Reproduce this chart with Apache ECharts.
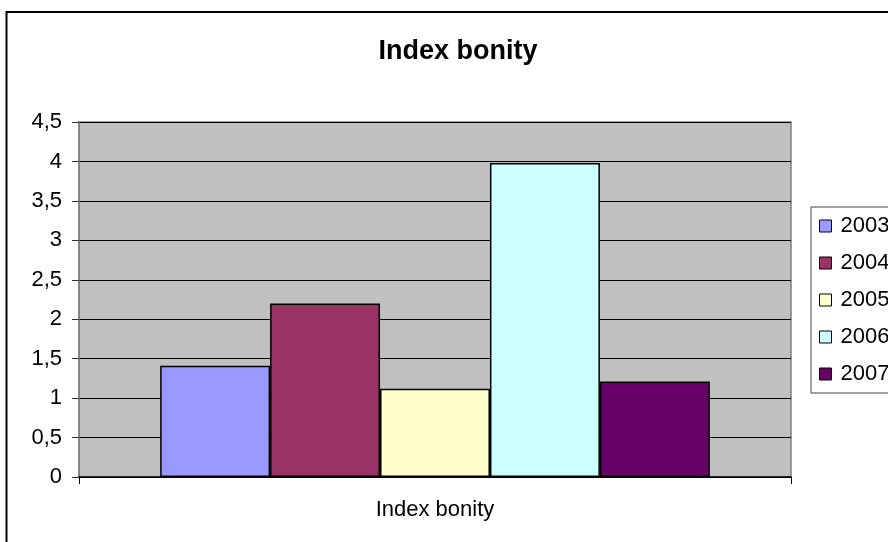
<!DOCTYPE html>
<html>
<head>
<meta charset="utf-8">
<script src="https://cdn.jsdelivr.net/npm/echarts@6/dist/echarts.min.js"></script>
<style>
  html, body { margin: 0; padding: 0; background: #fff; overflow: hidden; }
  #chart { width: 888px; height: 542px; }
</style>
</head>
<body>
<div id="chart"></div>
<script>
// data
const categories = ["Index bonity"];
const years = ["2003", "2004", "2005", "2006", "2007"];
const values = [1.41, 2.2, 1.12, 3.98, 1.21];
const colors = ["#9999ff", "#993366", "#ffffcc", "#ccffff", "#660066"];
const yTicks = { min: 0, max: 4.5, interval: 0.5 };

const font = "Liberation Sans, Arial, sans-serif";
const chart = echarts.init(document.getElementById("chart"));

const series = years.map((y, i) => ({
  name: y,
  type: "bar",
  data: [values[i]],
  barGap: "0%",
  barCategoryGap: "22.8%",
  itemStyle: { color: colors[i], borderColor: "#000", borderWidth: 1.5 },
}));

chart.setOption({
  animation: false,
  textStyle: { fontFamily: font, color: "#000" },
  title: {
    text: "Index bonity",
    left: 453,
    textAlign: "center",
    top: 33,
    textStyle: { fontSize: 27, fontWeight: "bold", color: "#000", fontFamily: font },
  },
  graphic: [
    {
      type: "rect",
      shape: { x: 6.5, y: 12, width: 1000, height: 600 },
      style: { fill: "none", stroke: "#000", lineWidth: 2 },
      silent: true,
    },
  ],
  legend: {
    orient: "vertical",
    left: 811,
    top: 207,
    padding: [8, 60, 8, 8],
    itemWidth: 12,
    itemHeight: 12,
    itemGap: 15,
    borderColor: "#444",
    borderWidth: 1,
    backgroundColor: "#fff",
    icon: "rect",
    itemStyle: { borderWidth: 1, borderColor: "#000" },
    textStyle: { fontSize: 22, lineHeight: 22, color: "#000", fontFamily: font, padding: [0, 0, 0, 4] },
    data: years,
  },
  grid: {
    left: 79,
    right: 97,
    top: 122,
    bottom: 65,
    show: true,
    backgroundColor: "#c0c0c0",
    borderColor: "#808080",
    borderWidth: 1.5,
  },
  xAxis: {
    type: "category",
    data: categories,
    axisLine: { lineStyle: { color: "#000", width: 1.5 } },
    axisTick: { show: true, length: 7, lineStyle: { color: "#000" } },
    axisLabel: { fontSize: 22, color: "#000", margin: 22, fontFamily: font },
  },
  yAxis: {
    type: "value",
    min: yTicks.min,
    max: yTicks.max,
    interval: yTicks.interval,
    axisLine: { show: true, lineStyle: { color: "#808080", width: 1.5 } },
    axisTick: { show: true, length: 7, lineStyle: { color: "#333" } },
    axisLabel: {
      fontSize: 22,
      color: "#000",
      margin: 17,
      fontFamily: font,
      formatter: (v) => String(v).replace(".", ","),
    },
    splitLine: { lineStyle: { color: "#000", width: 1 } },
  },
  series: series,
});
</script>
</body>
</html>
